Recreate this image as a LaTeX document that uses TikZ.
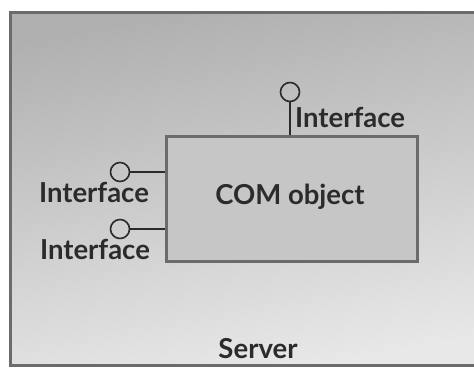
\documentclass[tikz,border=0pt]{standalone}
\usepackage{fontspec}
\setmainfont{Lato}
\usetikzlibrary{positioning}
\definecolor{frameline}{gray}{0.42}
\definecolor{inkdark}{gray}{0.17}
\tikzset{
  frame/.style={draw=frameline,line width=3pt},
  objbox/.style={frame,fill=gray!45,minimum width=251pt,minimum height=125pt,inner sep=0pt},
  port/.style={circle,draw=inkdark,line width=1.6pt,minimum size=19pt,inner sep=0pt},
  stem/.style={draw=inkdark,line width=1.6pt},
  lbl/.style={text=inkdark,font=\fontsize{27.5}{29}\selectfont\bfseries,inner sep=0pt}
}
\begin{document}
\begin{tikzpicture}[x=1pt,y=-1pt]
  \useasboundingbox (0,0) rectangle (474,367);
  \clip (0,0) rectangle (474,367);
  % Server
  \shade[top color=gray!62,bottom color=gray!18,shading angle=10] (10,12) rectangle (500,365);
  \draw[frame] (10,12) rectangle (500,365);
  \node[lbl] (server) at (258,349) {Server};
  % COM object
  \node[objbox] (obj) at (291.5,198.5) {};
  \node[lbl] (objname) at (290,197) {COM object};
  % Interfaces
  \node[port] (ptop) at (290,92) {};
  \draw[stem] (ptop) -- (ptop |- obj.north);
  \node[lbl,anchor=west] (ltop) at (295,117) {Interface};
  \node[port] (pleft) at (120,172) {};
  \draw[stem] (pleft) -- (pleft -| obj.west);
  \node[lbl] (lleft) at (94,192) {Interface};
  \node[port] (plow) at (120,229) {};
  \draw[stem] (plow) -- (plow -| obj.west);
  \node[lbl] (llow) at (95,249) {Interface};
\end{tikzpicture}
\end{document}
